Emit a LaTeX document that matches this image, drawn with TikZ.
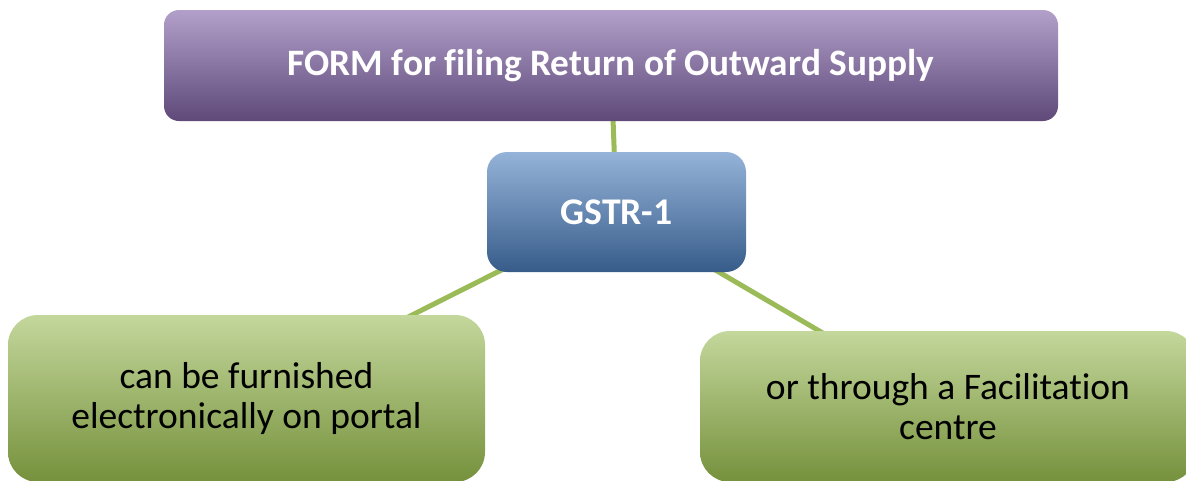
\documentclass[tikz,border=0pt]{standalone}
\usepackage{fontspec}
\setmainfont[Ligatures={NoCommon}]{Carlito}
\usetikzlibrary{backgrounds}
\definecolor{purT}{RGB}{178,160,202}
\definecolor{purM}{RGB}{130,102,166}
\definecolor{purB}{RGB}{94,73,121}
\definecolor{bluT}{RGB}{149,179,216}
\definecolor{bluM}{RGB}{80,130,190}
\definecolor{bluB}{RGB}{55,92,138}
\definecolor{grnT}{RGB}{196,215,156}
\definecolor{grnM}{RGB}{156,188,90}
\definecolor{grnB}{RGB}{117,145,60}
\definecolor{linkgreen}{RGB}{155,187,89}
\tikzset{
  box/.style={rectangle, inner sep=0pt, align=center},
  purplebox/.style={box, rounded corners=15pt, top color=purT, middle color=purM, bottom color=purB,
     text=white, font=\fontsize{37.3}{40}\selectfont\bfseries},
  bluebox/.style={box, rounded corners=20pt, top color=bluT, middle color=bluM, bottom color=bluB,
     text=white, font=\fontsize{37.7}{42}\selectfont\bfseries},
  greenbox/.style={box, rounded corners=30pt, top color=grnT, middle color=grnM, bottom color=grnB,
     text=black, font=\fontsize{37.5}{40}\selectfont},
  link/.style={draw=linkgreen, line width=5pt}
}
\begin{document}
\begin{tikzpicture}[x=1pt,y=-1pt]
\useasboundingbox (0,0) rectangle (1186,480);
\clip (0,0) rectangle (1186,480);
\node[purplebox, minimum width=894pt, minimum height=111pt] (form) at (611,65.5) {FORM for filing Return of Outward Supply};
\node[bluebox, minimum width=259pt, minimum height=120pt] (gstr) at (616.5,212) {GSTR-1};
\node[greenbox, minimum width=477pt, minimum height=167pt] (left) at (246.5,398.5) {can be furnished\\electronically on portal};
\node[greenbox, minimum width=496pt, minimum height=151pt] (right) at (948,406.5) {or through a Facilitation\\centre};
\begin{pgfonlayer}{background}
\draw[link] (form.center) -- (gstr.center);
\draw[link] (gstr.center) -- (left.center);
\draw[link] (gstr.center) -- (right.center);
\end{pgfonlayer}
\end{tikzpicture}
\end{document}
